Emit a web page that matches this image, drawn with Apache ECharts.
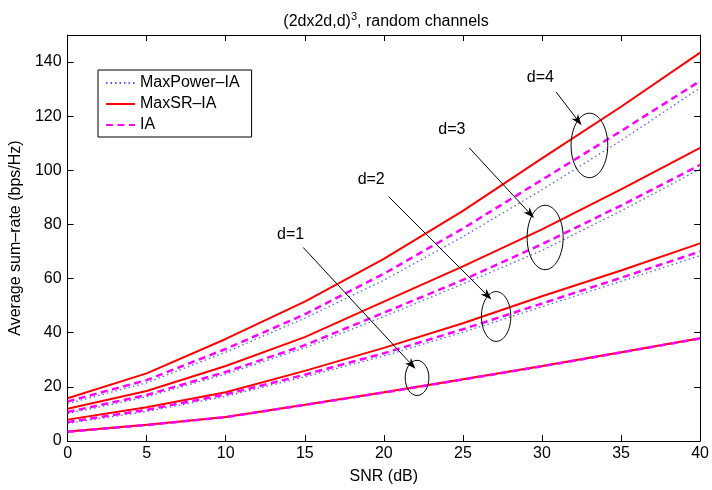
<!DOCTYPE html>
<html lang="en">
<head>
<meta charset="UTF-8">
<title>Average sum-rate</title>
<script src="https://cdn.jsdelivr.net/npm/echarts@6/dist/echarts.min.js"></script>
</head>
<body style="margin:0;background:#fff">
<div id="main" style="width:712px;height:490px;"></div>
<script>
var snr = [0, 5, 10, 15, 20, 25, 30, 35, 40];

// one row per d = 1..4
var maxPower = [
    [3.3, 5.8, 8.7, 13.2, 17.8, 22.6, 27.5, 32.6, 37.8],
    [6.5, 10.9, 16.5, 23.7, 31.4, 40.2, 49.6, 59.0, 68.5],
    [10.1, 16.3, 24.7, 34.4, 46.0, 58.0, 70.4, 85.0, 100.5],
    [13.8, 21.5, 32.8, 45.4, 59.4, 75.5, 92.8, 111.0, 130.5]
];
var maxSR = [
    [3.5, 6.0, 8.9, 13.4, 18.0, 22.8, 27.7, 32.8, 38.0],
    [7.9, 12.5, 18.0, 25.9, 34.4, 43.5, 53.5, 63.0, 73.0],
    [11.9, 18.5, 27.7, 38.4, 51.5, 64.5, 78.2, 93.0, 108.3],
    [15.8, 25.0, 37.7, 51.5, 67.3, 85.0, 104.4, 123.5, 143.5]
];
var ia = [
    [3.4, 5.9, 8.8, 13.3, 17.9, 22.7, 27.6, 32.7, 37.9],
    [7.0, 11.5, 17.2, 24.5, 32.4, 41.3, 50.8, 60.3, 70.0],
    [10.7, 17.0, 25.5, 35.4, 47.4, 59.5, 72.7, 87.0, 102.0],
    [14.6, 22.5, 34.0, 46.8, 61.8, 78.5, 96.5, 114.5, 133.0]
];

var names = ['MaxPower–IA', 'MaxSR–IA', 'IA'];

// annotations, in data coordinates
var dLabels = ['d=1', 'd=2', 'd=3', 'd=4'];
var labelAt = [[14.1, 76.1], [19.2, 96.6], [24.3, 115.0], [29.9, 134.1]];
var arrowFrom = [[14.9, 71.5], [20.3, 90.3], [25.4, 108.3], [30.9, 128.9]];
var arrowTo = [[22.0, 26.7], [26.8, 52.3], [29.5, 82.4], [32.5, 116.7]];
var ringAt = [[22.1, 23.3], [27.1, 46.0], [30.2, 75.2], [33.0, 109.2]];
var ringSize = [[0.75, 6.5], [0.93, 9.2], [1.14, 11.9], [1.16, 11.9]];

var font = 'Liberation Sans, Arial, Helvetica, sans-serif';

var styles = [
    {color: '#5a5aff', width: 1.3, type: [1.5, 3]},
    {color: '#ff0000', width: 2},
    {color: '#ff00ff', width: 2.5, type: [7, 4.5]}
];
var tables = [maxPower, maxSR, ia];

var series = [];
for (var d = 0; d < 4; d++) {
    for (var k = 0; k < 3; k++) {
        series.push({
            name: names[k],
            type: 'line',
            symbol: 'none',
            silent: true,
            lineStyle: styles[k],
            itemStyle: {color: styles[k].color},
            data: snr.map(function (x, i) { return [x, tables[k][d][i]]; })
        });
    }
}

var boxAxis = {
    axisLine: {show: true, onZero: false, lineStyle: {color: '#000', width: 1}},
    axisTick: {show: true, inside: true, length: 6, lineStyle: {color: '#000'}},
    splitLine: {show: false}
};
var labelStyle = {fontSize: 16, color: '#000', fontFamily: font};

var chart = echarts.init(document.getElementById('main'));
chart.setOption({
    animation: false,
    backgroundColor: '#fff',
    title: {
        text: '(2dx2d,d){sup|3}, random channels',
        left: 381, top: 6, textAlign: 'center',
        textStyle: {
            fontSize: 16, fontWeight: 'normal', color: '#000', fontFamily: font, lineHeight: 22,
            rich: {sup: {fontSize: 11, verticalAlign: 'top', fontFamily: font, color: '#000', lineHeight: 22}}
        }
    },
    grid: {left: 60, right: 9, top: 35, bottom: 44},
    legend: {
        orient: 'vertical', left: 98, top: 70,
        data: names,
        backgroundColor: '#fff', borderColor: '#000', borderWidth: 1, borderRadius: 0,
        padding: [5, 12, 4, 7], itemGap: 5, itemWidth: 29, itemHeight: 14,
        itemStyle: {opacity: 0},
        textStyle: labelStyle
    },
    xAxis: [
        Object.assign({
            type: 'value', min: 0, max: 40, interval: 5, position: 'bottom',
            axisLabel: Object.assign({margin: 5}, labelStyle),
            name: 'SNR (dB)', nameLocation: 'middle', nameGap: 28, nameTextStyle: labelStyle
        }, boxAxis),
        Object.assign({
            type: 'value', min: 0, max: 40, interval: 5, position: 'top', axisLabel: {show: false}
        }, boxAxis)
    ],
    yAxis: [
        Object.assign({
            type: 'value', min: 0, max: 150, interval: 20, position: 'left',
            axisLabel: Object.assign({margin: 6, showMaxLabel: false}, labelStyle),
            name: 'Average sum–rate (bps/Hz)', nameLocation: 'middle', nameGap: 38, nameTextStyle: labelStyle
        }, boxAxis),
        Object.assign({
            type: 'value', min: 0, max: 150, interval: 20, position: 'right', axisLabel: {show: false}
        }, boxAxis)
    ],
    series: series
});

function toPx(p) {
    return chart.convertToPixel({xAxisIndex: 0, yAxisIndex: 0}, p);
}

var graphics = [];
for (var i = 0; i < 4; i++) {
    var c = toPx(ringAt[i]);
    var e = toPx([ringAt[i][0] + ringSize[i][0], ringAt[i][1] + ringSize[i][1]]);
    graphics.push({
        type: 'ellipse', silent: true, z: 100,
        shape: {cx: c[0], cy: c[1], rx: Math.abs(e[0] - c[0]), ry: Math.abs(e[1] - c[1])},
        style: {fill: 'none', stroke: '#000', lineWidth: 1}
    });

    var a = toPx(arrowFrom[i]), b = toPx(arrowTo[i]);
    var dx = b[0] - a[0], dy = b[1] - a[1], len = Math.sqrt(dx * dx + dy * dy);
    var ux = dx / len, uy = dy / len, nx = -uy, ny = ux;
    var head = 11, half = 4, notch = 8;
    graphics.push({
        type: 'line', silent: true, z: 100,
        shape: {x1: a[0], y1: a[1], x2: b[0] - ux * notch, y2: b[1] - uy * notch},
        style: {stroke: '#000', lineWidth: 1}
    });
    graphics.push({
        type: 'polygon', silent: true, z: 100,
        shape: {points: [
            [b[0], b[1]],
            [b[0] - ux * head + nx * half, b[1] - uy * head + ny * half],
            [b[0] - ux * notch, b[1] - uy * notch],
            [b[0] - ux * head - nx * half, b[1] - uy * head - ny * half]
        ]},
        style: {fill: '#000'}
    });

    var t = toPx(labelAt[i]);
    graphics.push({
        type: 'text', silent: true, z: 100, x: t[0], y: t[1],
        style: {text: dLabels[i], fontSize: 16, fontFamily: font, fill: '#000', align: 'center', verticalAlign: 'middle'}
    });
}
chart.setOption({graphic: graphics});
</script>
</body>
</html>
